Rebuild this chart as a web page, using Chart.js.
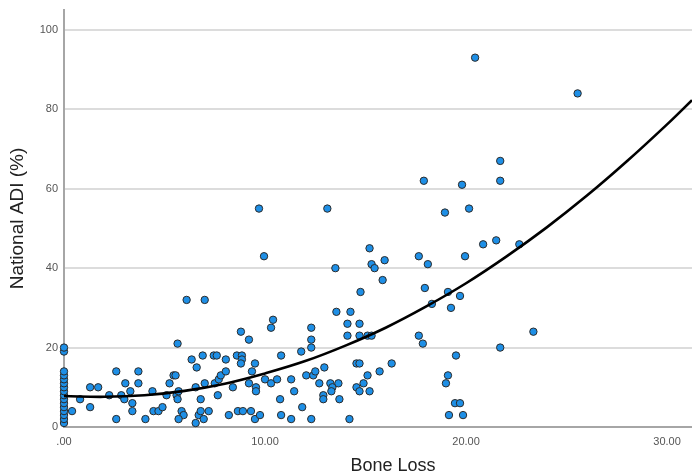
<!DOCTYPE html>
<html>
<head>
<meta charset="utf-8">
<script src="https://cdn.jsdelivr.net/npm/chart.js@4/dist/chart.umd.min.js"></script>
<style>
html,body{margin:0;padding:0;background:#fff;}
#wrap{width:692px;height:473px;}
</style>
</head>
<body>
<div id="wrap"><canvas id="c" width="692" height="473"></canvas></div>
<script>
// Bone Loss (x) and National ADI % (y) for each observation
const boneLoss = [
  0,0,0,0,0,0,0,0,0,0,0,0,0,0,0,0,
  0.4,0.8,1.3,1.3,1.7,2.25,2.6,2.6,2.85,3.0,3.05,3.3,3.4,3.4,3.7,3.7,4.05,4.4,4.45,4.7,4.9,5.1,
  5.25,5.45,5.55,5.65,5.6,5.7,5.65,5.85,5.95,5.7,6.1,6.35,6.55,6.6,6.55,6.7,6.8,6.8,6.9,6.95,7.0,7.0,7.2,7.45,7.5,7.6,7.65,7.7,7.8,8.05,8.05,8.2,8.4,
  8.6,8.65,8.8,8.85,8.85,8.8,8.9,9.2,9.2,9.3,9.35,9.5,9.5,9.55,9.55,9.75,9.7,9.95,10.0,10.3,10.3,10.4,10.6,10.75,10.8,10.8,
  11.3,11.3,11.45,11.8,11.85,12.05,12.3,12.3,12.3,12.3,12.4,12.5,12.7,12.9,12.9,12.95,13.1,13.25,13.35,13.3,13.5,13.55,13.65,13.7,
  14.1,14.1,14.2,14.25,14.55,14.55,14.7,14.7,14.7,14.75,14.7,14.9,15.1,15.1,15.2,15.2,15.3,15.3,15.45,15.7,15.85,15.95,16.3,
  17.65,17.65,17.85,17.9,17.95,18.1,18.3,18.95,19.0,19.1,19.1,19.15,19.25,19.45,19.5,19.7,19.7,19.8,19.85,19.95,20.15,20.45,20.85,
  21.5,21.7,21.7,21.7,22.65,23.35,25.55
];
const nationalADI = [
  1,2,3,4,5,6,7,8,9,10,11,12,13,14,19,20,
  4,7,10,5,10,8,14,2,8,7,11,9,6,4,14,11,2,9,4,4,5,8,
  11,13,13,21,8,9,7,4,3,2,32,17,1,15,10,3,7,4,18,2,11,32,4,18,11,18,8,12,13,17,14,3,10,
  18,4,24,18,17,16,4,22,11,4,14,16,2,10,9,3,55,43,12,11,25,27,12,7,18,3,
  12,2,9,19,5,13,25,22,20,2,13,14,11,8,7,15,55,11,10,9,40,29,11,7,
  26,23,2,29,16,10,16,26,23,34,9,11,23,13,45,9,41,23,40,14,37,42,16,
  43,23,21,62,35,41,31,54,11,34,13,3,30,6,18,33,6,61,3,43,55,93,46,
  47,67,62,20,46,24,84
];
// fitted curve
const curveX = [0,2,4,6,8,10,12,14,16,18,20,22,24,26,28,30,31.24];
const curveY = [7.8,7.6,8.0,9.1,10.9,13.5,16.6,20.5,25.0,30.3,36.2,42.9,50.2,58.2,66.9,76.2,82.3];

const xTickValues = [0,10,20,30];
const xTickLabels = ['.00','10.00','20.00','30.00'];
const yTickValues = [0,20,40,60,80,100];
const yTickLabels = ['0','20','40','60','80','100'];
const xTitle = 'Bone Loss';
const yTitle = 'National ADI (%)';

const scatterData = boneLoss.map((x,i)=>({x:x, y:nationalADI[i]}));
const curveData = curveX.map((x,i)=>({x:x, y:curveY[i]}));

const FONT = 'Arial, "Liberation Sans", sans-serif';

// x-axis title, drawn slightly right of centre as in the original
const xTitlePlugin = {
  id: 'xTitlePlugin',
  afterDraw(chart) {
    const ctx = chart.ctx;
    const area = chart.chartArea;
    ctx.save();
    ctx.fillStyle = '#222';
    ctx.font = '18px ' + FONT;
    ctx.textAlign = 'center';
    ctx.textBaseline = 'middle';
    ctx.fillText(xTitle, (area.left + area.right) / 2 + 15, area.bottom + 39);
    ctx.restore();
  }
};

new Chart(document.getElementById('c'), {
  type: 'scatter',
  data: {
    datasets: [
      {
        type: 'line',
        data: curveData,
        borderColor: '#000',
        borderWidth: 2.6,
        pointRadius: 0,
        tension: 0.4,
        fill: false,
        order: 0
      },
      {
        data: scatterData,
        backgroundColor: '#1e8fe6',
        borderColor: '#2b2b2b',
        borderWidth: 1,
        pointRadius: 3.7,
        clip: false,
        order: 1
      }
    ]
  },
  plugins: [xTitlePlugin],
  options: {
    responsive: false,
    devicePixelRatio: 1,
    animation: false,
    layout: { autoPadding: false, padding: { top: 10, right: 0, left: 0, bottom: 0 } },
    plugins: { legend: { display: false }, tooltip: { enabled: false } },
    scales: {
      x: {
        type: 'linear',
        min: 0,
        max: 31.24,
        afterFit: s => { s.height = 46; s.paddingLeft = 0; s.paddingRight = 0; },
        afterBuildTicks: s => { s.ticks = xTickValues.map(v=>({value:v})); },
        ticks: {
          includeBounds: false,
          padding: 8,
          color: '#555',
          font: { family: FONT, size: 11 },
          maxRotation: 0,
          callback: (v) => { const i = xTickValues.indexOf(v); return i >= 0 ? xTickLabels[i] : ''; }
        },
        grid: { display: false, drawTicks: false },
        border: { display: true, color: '#a6a6a6', width: 2 },
        title: { display: false, text: xTitle }
      },
      y: {
        type: 'linear',
        min: 0,
        max: 105,
        afterFit: s => { s.width = 64; s.paddingTop = 0; s.paddingBottom = 0; },
        afterBuildTicks: s => { s.ticks = yTickValues.map(v=>({value:v})); },
        ticks: {
          includeBounds: false,
          padding: 6,
          color: '#555',
          font: { family: FONT, size: 11 },
          callback: (v) => { const i = yTickValues.indexOf(v); return i >= 0 ? yTickLabels[i] : ''; }
        },
        grid: {
          drawTicks: false,
          lineWidth: 2,
          color: (ctx) => (ctx.tick && ctx.tick.value === 0) ? 'rgba(0,0,0,0)' : '#dcdcdc'
        },
        border: { display: true, color: '#a6a6a6', width: 2 },
        title: {
          display: true,
          text: yTitle,
          color: '#222',
          font: { family: FONT, size: 19, lineHeight: 1.2 },
          padding: { top: 6, bottom: 0 }
        }
      }
    }
  }
});
</script>
</body>
</html>
